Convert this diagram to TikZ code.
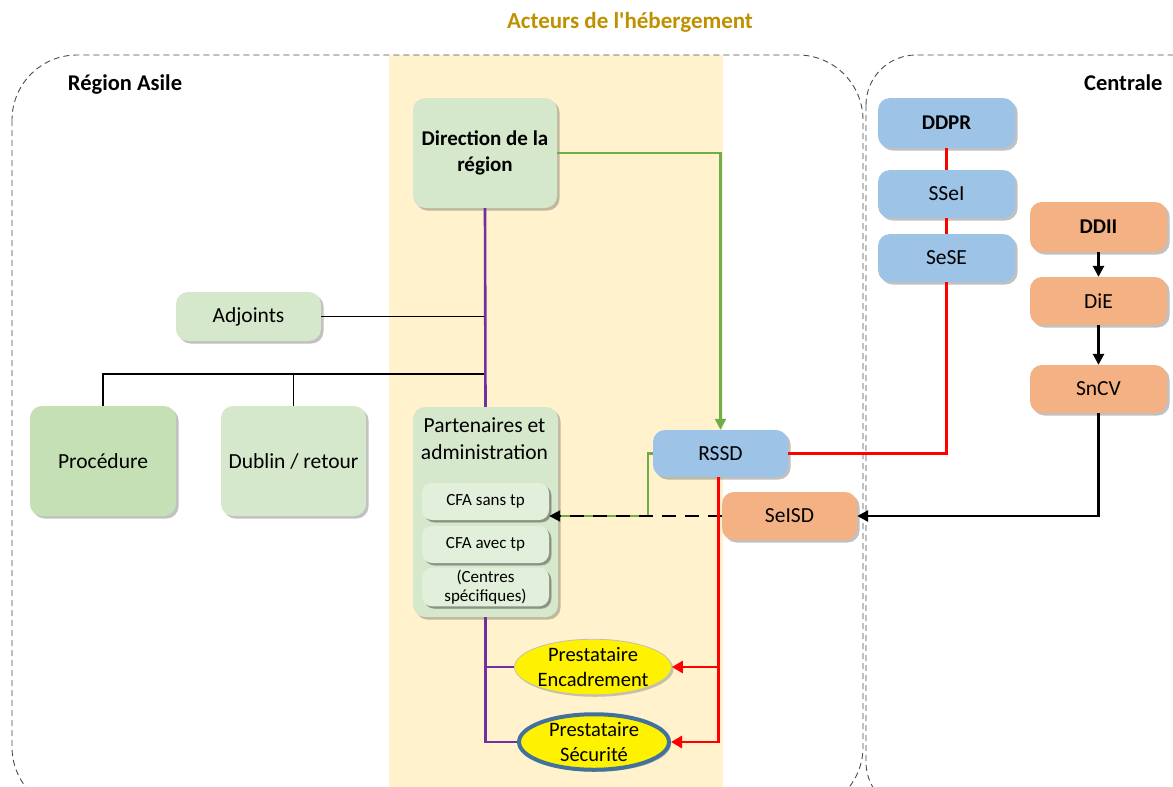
\documentclass[tikz,border=0pt]{standalone}
\usepackage{fontspec}
\setmainfont{Carlito}
\usetikzlibrary{shadows,shapes.geometric,arrows.meta}
\definecolor{lgreen}{HTML}{D5E8CB}
\definecolor{dgreen}{HTML}{C5E0B4}
\definecolor{pgreen}{HTML}{E2EFDA}
\definecolor{lblue}{HTML}{9DC3E6}
\definecolor{lorange}{HTML}{F4B183}
\definecolor{beige}{HTML}{FFF2CC}
\definecolor{gold}{HTML}{BF9000}
\definecolor{purp}{HTML}{7030A0}
\definecolor{grn}{HTML}{70AD47}
\definecolor{secblue}{HTML}{41719C}
\tikzset{
  box/.style={rectangle, rounded corners=12pt, inner sep=2pt, align=center,
    font=\fontsize{21.5}{26}\selectfont,
    drop shadow={shadow xshift=2.5pt, shadow yshift=-2.5pt, opacity=0.35, fill=black!70}},
  smallbox/.style={box, rounded corners=10pt, fill=pgreen, minimum width=127pt,
    font=\fontsize{17}{19}\selectfont,
    drop shadow={shadow xshift=2pt, shadow yshift=-2pt, opacity=0.3, fill=black!70}},
  ell/.style={ellipse, fill=yellow, align=center, inner sep=0pt,
    font=\fontsize{20.5}{25}\selectfont,
    drop shadow={shadow xshift=2pt, shadow yshift=-2pt, opacity=0.3, fill=black!70}},
  regionline/.style={draw=black!70, dash pattern=on 6pt off 4pt, line width=0.9pt},
  purpline/.style={draw=purp, line width=2.6pt},
  grnline/.style={draw=grn, line width=2.4pt},
  redline/.style={draw=red, line width=2.8pt},
  thinline/.style={draw=black, line width=1.3pt},
  blkarrow/.style={draw=black, line width=2.6pt, -{Triangle[length=11pt,width=11pt]}},
  lbl/.style={font=\bfseries\fontsize{22.5}{26}\selectfont}
}
\begin{document}
\begin{tikzpicture}[x=1pt,y=-1pt]
\useasboundingbox (0,0) rectangle (1173,787);
\begin{scope}
\clip (0,0) rectangle (1173,787);
\fill[beige] (389,55) rectangle (723,800);
\draw[regionline, rounded corners=65pt] (12,55) rectangle (863,812);
\draw[regionline, rounded corners=50pt] (866,55) rectangle (1240,812);
\end{scope}

\node[font=\bfseries\fontsize{23}{26}\selectfont, text=gold] (title) at (630,22) {Acteurs de l\textquotesingle hébergement};
\node[lbl] (region) at (125,85) {Région Asile};
\node[lbl, anchor=east] (centrale) at (1166,83) {Centrale};

% Region nodes
\node[box, fill=lgreen, minimum width=144pt, minimum height=110pt, font=\bfseries\fontsize{21}{26}\selectfont] (dir) at (485,153) {Direction de la\\région};
\node[box, fill=lgreen, minimum width=145pt, minimum height=49pt] (adj) at (248.5,316.5) {Adjoints};
\node[box, fill=dgreen, minimum width=146pt, minimum height=110pt] (proc) at (103,461) {Procédure};
\node[box, fill=lgreen, minimum width=145pt, minimum height=110pt] (dub) at (293.5,461) {Dublin / retour};
\node[box, fill=lgreen, minimum width=145pt, minimum height=210pt] (part) at (485.5,512) {};
\node[align=center, font=\fontsize{21.5}{27}\selectfont] (parttext) at (484.5,439) {Partenaires et\\administration};
\node[smallbox, minimum height=37pt] (cfa1) at (485.5,501.5) {CFA sans tp};
\node[smallbox, minimum height=37pt] (cfa2) at (485.5,544.5) {CFA avec tp};
\node[smallbox, minimum height=38pt, font=\fontsize{17}{19.5}\selectfont] (cfa3) at (485.5,587) {(Centres\\spécifiques)};

\node[box, fill=lblue, minimum width=135pt, minimum height=47pt] (rssd) at (720.5,453.5) {RSSD};
\node[box, fill=lorange, minimum width=135pt, minimum height=48pt] (seisd) at (789.5,516) {SeISD};

\node[ell, draw=black!25, line width=0.8pt, minimum width=152pt, minimum height=50pt] (enc) at (593,667) {Prestataire\\Encadrement};
\node[ell, draw=secblue, line width=4pt, minimum width=150pt, minimum height=54pt] (secu) at (594,742) {Prestataire\\Sécurité};

% Centrale nodes
\node[box, fill=lblue, minimum width=137pt, minimum height=50pt, font=\bfseries\fontsize{21}{26}\selectfont] (ddpr) at (946.5,123) {DDPR};
\node[box, fill=lblue, minimum width=137pt, minimum height=48pt] (ssei) at (946.5,194) {SSeI};
\node[box, fill=lblue, minimum width=137pt, minimum height=48pt] (sese) at (946.5,258) {SeSE};
\node[box, fill=lorange, minimum width=137pt, minimum height=50pt, font=\bfseries\fontsize{21}{26}\selectfont] (ddii) at (1098.5,227) {DDII};
\node[box, fill=lorange, minimum width=137pt, minimum height=48pt] (die) at (1098.5,301) {DiE};
\node[box, fill=lorange, minimum width=137pt, minimum height=48pt] (sncv) at (1098.5,389) {SnCV};

% Hierarchy (black thin)
\coordinate (hb) at (485,374);
\draw[thinline] (adj.east) -- (adj.east -| dir.south);
\draw[thinline] (proc.north) |- (hb);
\draw[thinline] (dub.north) -- (dub.north |- hb);

% Purple
\draw[purpline] (dir.south) -- (part.north);
\draw[purpline] (part.south) |- (secu.west);
\draw[purpline] (part.south |- enc.west) -- (enc.west);

% Green
\coordinate (cfaarrow) at (cfa1.east |- seisd.west);
\draw[grnline, -{Triangle[length=11pt,width=11pt]}] (dir.east) -| (rssd.north);
\draw[grnline] (rssd.west) -- ++(-5,0) |- (cfaarrow);
\draw[draw=black, line width=2pt, dash pattern=on 14pt off 9pt, -{Triangle[length=11pt,width=11pt]}] (seisd.west) -- (cfaarrow);

% Red
\draw[redline] (ddpr) -- (ssei);
\draw[redline] (ssei) -- (sese);
\draw[redline] (rssd.east) -| (sese.south);
\draw[redline, -{Triangle[length=11pt,width=12pt]}] ([xshift=-2pt]rssd.south) |- (secu.east);
\draw[redline, -{Triangle[length=11pt,width=12pt]}] ([xshift=-2pt]rssd.south |- enc.east) -- (enc.east);

% Black arrows
\draw[blkarrow] (ddii) -- (die);
\draw[blkarrow] (die) -- (sncv);
\draw[blkarrow] (sncv.south) |- (seisd.east);
\end{tikzpicture}
\end{document}
